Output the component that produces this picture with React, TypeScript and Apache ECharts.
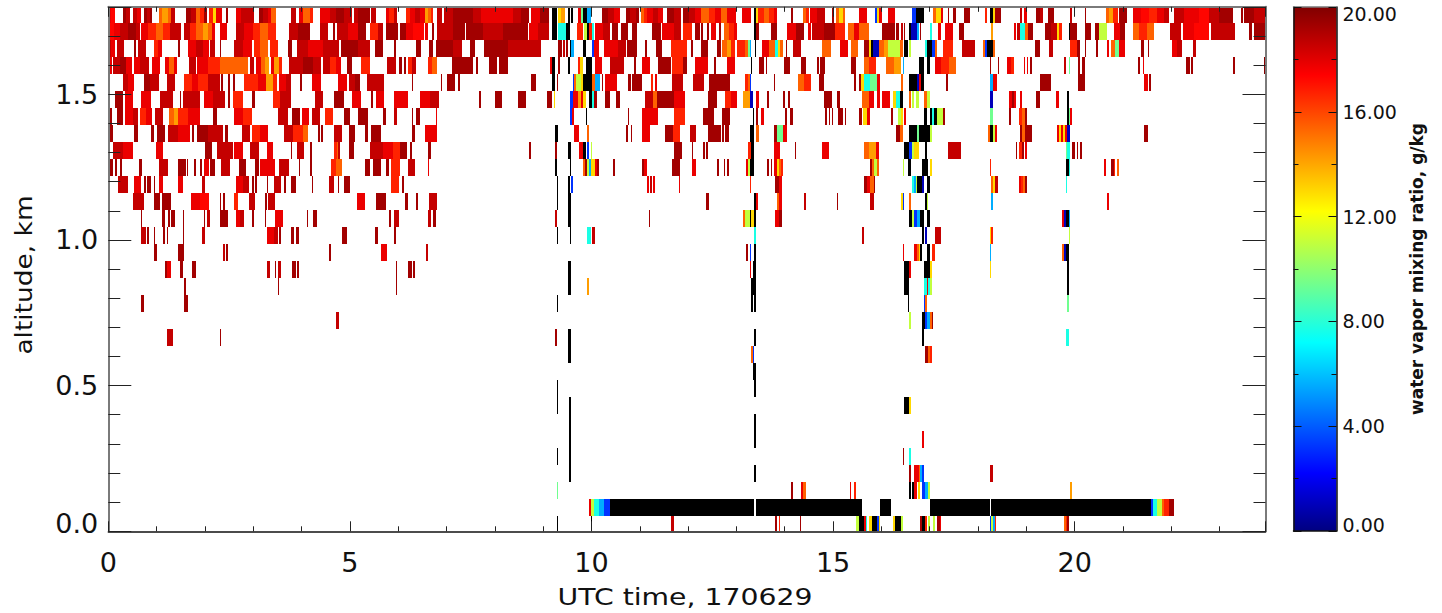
import React, { useEffect, useRef } from "react";
import * as echarts from "echarts";

// value classes (g/kg); X = black (below scale)
const D = 19.3, M = 18.6, R = 17.8, r = 17.3, O = 16.7, o = 15.4, A = 14.2, Y = 13, G = 11, S = 9.4, C = 7.7, K = 5.6, B = 3.2, N = 1, X = -1, V = 19.9;

const BIN_HOURS = 1 / 48.3; // time bin used for the run lists
const ROW_HEIGHT_KM = 0.05827;
const FIRST_ROW_TOP_KM = 0.054;

const xTicks = [0, 5, 10, 15, 20];
const yTicks = [0, 0.5, 1, 1.5];
const barLabels = [0, 4, 8, 12, 16, 20];
const xTitle = "UTC time, 170629";
const yTitle = "altitude, km";
const barTitle = "water vapor mixing ratio, g/kg";

// runs: start bin, end bin, value
const row30 = [1,3,R,3,7,r,15,18,D,18,22,M,25,29,M,29,33,R,36,39,D,39,42,M,42,44,D,51,54,o,54,60,A,60,63,o,63,67,M,78,83,D,83,88,M,88,92,o,92,96,O,96,99,D,101,105,O,105,108,Y,108,114,R,118,120,D,128,133,R,133,138,M,138,146,M,151,155,D,155,160,M,160,163,R,163,168,o,183,188,M,191,195,R,195,202,o,202,205,O,212,222,R,222,228,M,228,236,D,236,244,M,246,250,M,250,254,D,254,262,D,263,268,M,278,281,R,281,286,O,286,289,M,298,302,O,302,307,R,307,312,M,312,317,R,317,320,A,320,323,o,323,325,O,329,334,M,336,345,M,345,355,D,355,365,D,365,373,M,373,385,R,385,395,R,395,405,R,405,413,M,413,421,D,423,432,R,432,441,D,444,449,X,450,453,Y,453,457,A,460,462,X,463,465,X,470,473,R,473,475,S,475,479,X,479,483,K,494,500,D,500,506,M,506,512,R,518,522,D,522,528,M,528,531,D,533,536,o,536,539,O,539,545,R,545,550,M,550,555,R,558,565,D,565,572,M,574,580,D,580,586,M,586,592,R,592,600,o,600,606,O,606,612,R,612,618,o,618,627,R,633,642,R,645,647,X,647,649,Y,649,655,O,655,660,o,660,665,O,665,668,R,682,684,D,694,697,o,697,700,O,701,708,R,708,716,M,723,725,D,727,730,o,730,734,Y,734,736,o,750,758,R,766,768,B,768,770,Y,770,773,R,779,786,R,803,807,B,807,815,X,824,827,o,827,832,Y,832,834,R,839,840,D,844,847,D,855,861,D,876,878,O,881,884,X,884,886,Y,886,892,D,911,913,M,915,918,R,927,931,D,931,934,M,939,945,D,961,963,M,976,977,D,997,1000,o,1000,1004,A,1004,1009,O,1010,1018,D,1024,1032,R,1032,1040,r,1040,1048,O,1048,1055,R,1055,1060,M,1065,1075,M,1075,1090,R,1090,1100,r,1100,1110,M,1110,1124,D,1132,1134,D,1135,1145,D,1145,1157,M];
const row29 = [0,6,r,6,12,R,12,20,M,20,28,D,28,32,M,33,40,R,40,48,O,48,55,o,55,62,O,62,73,M,76,82,M,82,88,O,88,95,o,95,100,A,100,104,o,104,107,R,112,119,R,128,136,M,136,145,R,145,152,O,152,160,o,160,168,O,181,190,M,190,202,D,212,220,M,225,227,D,229,240,M,240,250,R,250,258,D,262,270,O,270,275,M,278,290,D,292,298,D,298,305,R,305,316,r,317,320,R,324,326,D,329,345,M,345,357,D,358,375,D,375,395,M,395,420,D,421,430,R,430,441,M,444,449,X,450,458,C,458,462,X,469,475,O,476,479,G,479,481,X,481,484,O,484,486,C,487,495,R,495,502,M,504,510,D,513,520,D,524,529,D,544,553,D,554,565,R,565,572,M,574,583,O,586,591,D,592,594,D,598,600,D,602,607,R,610,612,D,615,620,o,620,625,O,625,628,R,645,647,X,647,650,D,662,668,D,678,687,R,687,695,D,699,702,R,703,715,M,715,726,D,726,736,O,739,745,o,745,750,R,750,760,o,773,786,D,787,790,D,792,794,M,795,796,D,800,802,X,802,808,N,808,810,K,811,812,D,821,823,C,829,832,R,836,844,R,850,855,D,882,884,A,905,907,R,908,911,M,911,916,C,916,919,o,919,924,D,936,942,D,942,948,M,948,950,Y,950,953,O,960,961,X,961,968,D,976,982,D,986,990,D,990,998,G,1005,1011,R,1011,1016,D,1024,1030,o,1030,1038,O,1038,1045,o,1061,1072,M,1074,1085,R,1085,1100,r,1102,1126,M,1140,1143,D,1145,1157,D];
const row28 = [0,3,M,3,7,R,9,16,M,26,28,D,30,38,M,46,50,O,50,54,R,70,72,D,80,88,R,88,95,M,95,101,R,102,107,M,112,113,D,126,135,M,135,144,R,146,152,O,152,160,o,162,170,O,180,184,D,189,200,M,200,215,R,215,231,M,233,250,D,250,262,M,267,275,D,286,288,D,308,313,D,321,325,D,328,345,D,345,354,M,362,367,D,376,400,D,400,433,M,450,454,D,455,457,M,458,460,D,462,463,X,463,466,K,475,478,X,484,486,B,486,491,R,496,510,R,510,518,M,519,529,D,537,539,D,548,554,D,562,578,O,582,584,D,592,599,D,608,612,D,613,618,o,618,622,A,622,626,O,628,636,O,636,639,o,639,641,S,641,642,K,646,647,X,653,660,R,660,666,o,666,669,C,669,671,Y,671,674,o,677,678,D,684,692,M,713,722,o,731,739,R,742,749,o,755,760,D,760,762,Y,762,764,X,764,770,N,770,775,o,775,779,A,779,791,G,791,794,o,795,799,X,800,802,G,816,818,C,818,823,X,823,826,B,826,828,o,834,844,O,853,866,M,874,876,o,876,878,B,878,884,X,884,886,o,926,931,D,940,944,M,961,968,O,968,971,D,976,977,D,987,989,D,998,1000,R,1002,1006,o,1006,1010,S,1010,1016,R,1032,1035,D,1039,1040,D,1063,1068,R,1068,1073,M,1084,1087,M];
const row27 = [0,4,R,5,12,M,12,18,D,18,24,R,26,32,R,32,41,M,44,52,R,57,61,R,61,66,o,66,69,R,81,88,M,89,100,R,100,112,O,112,125,o,125,140,o,142,146,M,148,153,R,153,157,o,157,161,A,163,166,R,166,171,A,171,174,O,181,195,M,195,205,D,205,213,M,215,222,M,222,228,O,228,233,R,239,244,D,253,262,O,279,288,M,291,292,D,292,294,D,296,298,D,300,304,O,304,308,M,320,324,O,324,329,o,344,365,D,368,370,D,381,389,D,391,400,D,442,444,R,444,447,X,450,452,D,460,462,X,470,472,O,472,475,Y,478,484,X,487,494,R,502,516,M,526,528,D,534,542,R,550,562,D,563,574,O,574,578,D,586,599,R,605,607,D,618,626,R,642,643,X,650,655,D,657,658,D,675,681,D,692,697,D,708,710,D,711,716,D,742,747,D,755,760,o,760,767,O,777,785,o,785,792,A,794,795,K,810,815,X,818,821,X,826,832,R,832,840,O,840,847,o,881,882,D,889,890,D,898,902,R,902,905,O,915,916,R,918,919,R,921,923,D,955,957,M,960,961,S,969,971,D,973,976,D,1029,1031,D,1034,1035,R,1077,1081,D,1082,1084,D,1124,1126,D,1155,1157,V];
const row26 = [15,20,M,20,26,R,36,42,D,42,51,M,59,67,M,76,84,O,84,90,R,90,100,O,100,112,M,113,115,D,120,122,D,125,127,D,136,150,O,150,158,R,158,165,A,165,169,O,171,178,R,178,183,M,192,194,D,204,213,R,230,239,R,241,247,M,247,252,D,259,276,M,304,305,D,333,334,D,339,347,D,350,352,D,423,428,D,444,447,X,449,450,D,465,466,B,466,468,o,468,473,G,473,475,Y,475,484,X,484,487,o,487,492,K,494,495,D,497,509,R,520,523,D,524,534,D,543,545,O,547,549,R,563,574,M,584,595,M,600,621,D,636,639,O,639,641,o,641,642,B,665,666,D,689,695,o,695,702,O,710,715,D,745,747,D,750,752,D,752,755,Y,755,761,C,761,768,S,768,771,R,792,794,o,800,808,X,808,810,N,810,812,R,812,815,X,837,839,D,881,884,K,884,888,R,931,942,D,969,976,D,1035,1039,R,1040,1042,D,1156,1157,V];
const row25 = [7,15,D,17,25,R,33,43,R,52,65,M,72,73,D,75,92,M,96,105,R,105,117,M,120,122,D,125,135,O,144,147,D,165,172,O,172,183,M,207,215,M,226,236,D,244,253,R,263,265,D,268,276,R,286,292,R,292,300,R,312,322,R,322,331,M,371,373,D,387,394,D,410,418,D,439,444,D,446,447,Y,462,465,B,465,470,R,470,473,A,473,475,R,475,478,Y,481,484,X,484,486,C,486,489,D,497,502,D,508,512,D,537,545,M,545,549,o,549,565,D,565,576,R,599,608,D,616,622,O,622,628,R,634,641,A,641,644,N,647,650,R,658,660,D,674,676,D,679,681,D,715,723,D,728,731,D,753,760,o,760,765,R,768,771,R,773,781,R,784,787,Y,787,791,C,791,794,X,800,802,o,803,805,G,807,810,G,815,818,o,818,821,G,881,884,N,900,903,R,903,905,D,905,907,R,911,913,R,927,931,D,947,950,R,958,960,X];
const row24 = [0,4,D,9,15,D,17,25,R,25,30,M,32,38,O,38,44,R,47,55,M,61,66,o,66,70,A,70,80,O,80,92,R,105,109,D,126,135,R,135,144,O,170,180,M,184,192,D,194,201,R,204,212,M,217,225,O,236,242,D,250,260,D,275,278,D,286,289,M,304,305,D,308,312,D,328,329,R,462,464,B,464,466,R,478,479,X,520,521,D,534,550,R,565,576,O,594,605,D,613,621,D,644,645,X,647,649,D,652,655,R,676,678,D,681,684,D,716,718,D,720,721,D,723,724,D,729,734,D,736,737,D,750,753,D,754,758,Y,758,761,R,782,784,D,789,792,G,792,794,Y,795,797,R,815,818,X,821,823,X,823,825,C,825,828,X,828,834,G,834,836,D,881,884,S,900,902,D,910,913,O,913,916,o,916,918,D,958,960,X,960,961,S,961,963,R];
const row23 = [2,5,D,26,30,D,43,46,D,49,57,D,60,70,M,70,82,R,84,86,D,89,100,D,100,115,M,117,120,D,134,142,M,144,152,O,152,160,R,176,185,M,185,195,O,195,200,o,210,212,D,213,215,D,226,234,M,241,247,D,257,260,D,263,273,D,304,307,D,317,329,R,447,450,X,466,471,R,479,481,o,518,520,D,523,524,D,534,542,R,557,564,D,564,571,O,581,587,M,599,612,D,613,615,D,616,620,D,641,645,X,647,650,o,665,668,D,668,674,S,674,678,R,787,791,D,791,794,o,800,808,X,808,810,S,810,821,X,821,823,G,879,881,o,881,884,X,884,886,G,886,888,R,911,913,D,913,916,o,916,923,D,948,950,R,950,952,Y,952,954,R,954,956,Y,956,958,R,958,961,N,1035,1039,D];
const row22 = [5,15,M,15,25,R,48,55,R,97,104,D,109,125,M,126,135,R,142,151,M,159,165,R,183,184,D,189,196,M,202,204,D,226,229,O,229,230,o,230,232,M,241,246,D,262,275,M,275,285,R,285,292,O,292,299,D,302,304,D,320,323,D,421,423,D,447,449,D,460,463,X,471,475,R,475,478,X,479,481,B,483,484,G,565,573,D,583,584,D,594,596,D,597,599,D,639,642,O,642,645,X,665,671,R,686,687,D,713,720,R,755,760,o,760,767,A,767,770,R,795,800,X,800,803,B,803,805,G,805,810,Y,816,818,X,839,852,M,907,908,D,910,913,O,913,915,D,916,918,R,957,958,S,958,961,C,963,966,D,968,969,D,971,973,D];
const row21 = [2,5,D,7,9,D,12,14,D,31,34,D,51,60,M,70,78,D,79,80,D,86,88,D,92,94,D,96,101,R,102,107,D,113,122,M,131,138,D,147,151,D,152,167,R,171,181,M,191,192,D,202,204,D,223,228,O,228,234,o,257,262,D,265,273,D,278,281,D,283,292,O,300,307,M,320,321,R,447,449,X,462,463,X,475,477,o,477,479,D,479,481,G,481,483,K,483,487,Y,487,489,R,489,491,D,505,507,D,534,536,D,536,539,R,563,571,D,583,587,R,608,610,D,615,616,D,618,620,D,637,639,R,639,641,G,641,645,X,658,660,D,662,663,D,665,668,R,668,670,Y,670,672,o,672,674,O,761,763,D,763,765,o,765,768,G,768,770,o,794,795,G,799,802,X,813,819,X,821,823,Y,881,882,O,957,960,X,960,961,C,995,997,R,1002,1005,D,1005,1006,O,1008,1010,o];
const row20 = [10,20,M,26,33,R,36,38,D,39,43,D,46,47,D,51,55,R,70,75,R,94,97,M,128,135,R,135,141,M,144,146,D,147,149,D,159,160,D,166,173,M,176,178,D,183,188,D,204,205,D,221,226,M,230,231,D,236,242,D,283,291,O,294,296,D,449,450,X,460,462,X,463,465,B,539,541,R,542,544,M,545,547,R,570,571,R,641,642,O,666,670,D,670,673,R,755,758,D,758,761,R,761,765,o,765,766,D,803,805,C,805,807,K,807,808,G,808,813,X,813,815,N,818,821,X,882,884,o,884,886,Y,886,889,M,910,912,R,912,914,O,914,916,o,916,918,D,957,958,C];
const row19 = [25,36,M,46,52,D,54,63,D,83,92,R,92,101,r,112,113,D,115,117,D,126,130,O,141,147,M,157,159,D,160,167,M,249,257,R,268,278,D,297,300,D,308,310,D,321,329,M,449,450,X,460,463,X,597,600,D,645,647,X,647,649,R,668,670,o,670,673,R,695,697,M,728,729,D,761,765,M,792,794,Y,794,795,B,800,802,o,816,818,X,818,819,G,882,884,K,998,1000,R];
const row18 = [0,2,V,33,34,D,54,57,D,60,62,D,63,67,D,75,76,D,96,97,D,99,102,M,112,120,D,128,132,R,132,136,M,144,146,D,157,158,D,167,175,R,199,200,D,205,209,D,281,283,D,286,291,M,320,323,M,325,328,D,447,449,M,460,463,X,541,542,D,634,636,o,636,641,G,641,642,X,642,645,Y,645,647,X,666,670,R,670,673,D,800,803,X,803,805,G,805,808,B,808,811,K,811,815,X,818,821,X,953,955,R,955,957,N,957,960,X,960,961,K];
const row17 = [33,38,M,39,41,D,46,47,D,55,57,D,59,60,D,75,76,D,94,97,M,159,166,R,166,170,M,171,173,D,183,186,D,188,191,D,234,239,D,267,270,D,286,288,D,449,450,X,462,463,X,479,483,C,484,487,M,645,647,C,753,755,M,813,815,X,816,818,N,826,832,M,881,882,Y,882,884,O,960,961,G];
const row16 = [46,49,D,70,76,D,115,117,M,118,120,D,221,223,D,273,279,R,318,320,M,637,639,D,641,642,B,645,647,X,794,795,R,805,808,R,808,810,o,810,811,Y,811,813,X,818,821,X,823,826,O,881,882,K,953,955,o,955,957,N,957,960,X];
const row15 = [57,59,D,59,63,R,72,75,D,84,88,D,159,162,M,167,168,D,170,173,M,184,188,D,189,191,D,288,289,D,300,304,D,305,307,D,460,463,X,641,642,R,644,647,X,795,800,X,800,802,R,815,821,X,821,823,Y,881,882,Y,958,960,X];
const row14 = [76,78,D,170,171,D,288,289,D,460,463,X,479,481,A,642,647,X,795,800,X,815,818,C,818,819,R,819,821,C,821,823,G,958,960,X];
const row13 = [33,36,D,76,80,D,449,450,X,642,644,X,645,647,X,799,800,X,815,816,B,816,818,o,958,960,S];
const row12 = [228,231,M,800,802,G,813,816,X,816,818,B,818,821,K,821,823,o,823,824,D];
const row11 = [59,65,M,112,113,D,447,449,D,460,463,X,645,647,X,813,815,X,957,960,C];
const row10 = [460,463,X,642,644,o,644,645,B,816,819,D,819,821,o,821,823,O];
const row9 = [644,647,X];
const row8 = [449,450,X,645,647,X];
const row7 = [449,450,X,461,463,X,795,800,X,800,802,Y];
const row6 = [461,463,X,645,647,X];
const row5 = [461,463,X,645,647,X,813,815,R];
const row4 = [449,450,X,461,463,X,794,795,D,800,802,C];
const row3 = [461,463,X,645,647,X,800,802,D,805,810,R,810,811,o,811,813,K,813,815,B,881,884,M];
const row2 = [449,450,S,682,684,D,692,694,R,694,697,o,741,742,R,745,747,O,800,802,X,803,805,X,805,808,R,809,811,Y,813,816,B,816,819,K,819,821,G,961,963,A];
const row1 = [481,483,R,483,486,G,486,491,C,491,496,K,496,502,B,502,645,X,647,753,X,771,782,X,821,881,X,882,1042,X,1042,1044,B,1044,1048,C,1048,1053,G,1053,1055,o,1055,1060,O,1060,1065,D];
const row0 = [449,450,X,483,484,X,562,565,M,666,668,D,670,671,O,691,692,D,747,750,G,750,755,X,755,757,R,757,758,C,760,763,Y,763,768,X,768,770,B,770,771,Y,784,786,Y,786,792,X,792,794,G,811,813,D,813,816,X,816,818,O,819,821,G,824,826,G,828,831,D,831,832,R,881,882,B,882,884,G,884,886,K,886,887,O,955,957,o,957,958,O,958,960,D];

const rows = [row0,row1,row2,row3,row4,row5,row6,row7,row8,row9,row10,row11,row12,row13,row14,row15,row16,row17,row18,row19,row20,row21,row22,row23,row24,row25,row26,row27,row28,row29,row30];

// colour scale positions (0..1 of 0–20 g/kg) and colours
const scaleStops = [0, 0.11, 0.36, 0.61, 0.87, 1];
const scaleColors = [[0,0,128],[0,0,255],[0,255,255],[255,255,0],[255,0,0],[128,0,0]];

function jet(v: number): string {
  if (v < 0) return "#000000";
  const t = Math.min(1, v / 20);
  for (let i = 1; i < scaleStops.length; i++) {
    if (t <= scaleStops[i]) {
      const f = (t - scaleStops[i - 1]) / (scaleStops[i] - scaleStops[i - 1]);
      const a = scaleColors[i - 1], b = scaleColors[i];
      return `rgb(${Math.round(a[0] + (b[0] - a[0]) * f)},${Math.round(a[1] + (b[1] - a[1]) * f)},${Math.round(a[2] + (b[2] - a[2]) * f)})`;
    }
  }
  return "#800000";
}

function cells() {
  const out: number[][] = [];
  rows.forEach((row, k) => {
    const lo = k === 0 ? 0 : FIRST_ROW_TOP_KM + (k - 1) * ROW_HEIGHT_KM;
    const hi = FIRST_ROW_TOP_KM + k * ROW_HEIGHT_KM;
    for (let i = 0; i < row.length; i += 3) {
      out.push([row[i] * BIN_HOURS, row[i + 1] * BIN_HOURS, lo, hi, row[i + 2]]);
    }
  });
  return out;
}

const FONT = "DejaVu Sans";
const GRAY = "#7a7a7a";
const INK = "#222222";

export default function App() {
  const ref = useRef<HTMLDivElement>(null);
  useEffect(() => {
    if (!ref.current) return;
    const chart = echarts.init(ref.current, null, { renderer: "svg" });
    const xBase: any = {
      type: "value", min: 0, max: 23.95, interval: 5, gridIndex: 0, z: 10,
      splitLine: { show: false },
      axisTick: { show: true, inside: true, length: 10, lineStyle: { color: INK, width: 1 } },
      minorTick: { show: true, splitNumber: 5, length: 5, lineStyle: { color: INK, width: 1 } },
    };
    const yBase: any = {
      type: "value", min: 0, max: 1.8, interval: 0.5, gridIndex: 0, z: 10,
      splitLine: { show: false },
      axisTick: { show: true, inside: true, length: 23, lineStyle: { color: INK, width: 1 } },
      minorTick: { show: true, splitNumber: 5, length: 12, lineStyle: { color: INK, width: 1 } },
    };
    chart.setOption({
      animation: false,
      backgroundColor: "#ffffff",
      textStyle: { fontFamily: FONT },
      grid: [
        { left: 108.3, top: 6.8, width: 1157.2, height: 524.5, containLabel: false },
        { left: 1293.5, top: 7, width: 43, height: 524, containLabel: false },
      ],
      graphic: [
        {
          type: "text", x: 685, y: 597, scaleX: 1.23,
          style: { text: xTitle, fontSize: 23, fontFamily: FONT, fill: "#111", textAlign: "center", textVerticalAlign: "middle" },
        },
        {
          type: "text", x: 24, y: 275, scaleX: 1.15, rotation: Math.PI / 2,
          style: { text: yTitle, fontSize: 23, fontFamily: FONT, fill: "#111", textAlign: "center", textVerticalAlign: "middle" },
        },
      ],
      xAxis: [
        {
          ...xBase, position: "bottom",
          axisLine: { show: true, onZero: false, lineStyle: { color: "#111111", width: 1.5 } },
          axisLabel: {
            show: true, fontSize: 27, color: "#111", margin: 18, fontFamily: FONT,
            customValues: xTicks,
          },
        },
        {
          ...xBase, position: "top",
          axisLine: { show: true, onZero: false, lineStyle: { color: GRAY, width: 2 } },
          axisLabel: { show: false },
        },
        {
          type: "value", gridIndex: 1, min: 0, max: 1, position: "bottom", show: true,
          axisLine: { show: true, onZero: false, lineStyle: { color: "#111", width: 1.5 } },
          axisTick: { show: false }, axisLabel: { show: false }, splitLine: { show: false }, z: 10,
        },
        {
          type: "value", gridIndex: 1, min: 0, max: 1, position: "top", show: true,
          axisLine: { show: true, onZero: false, lineStyle: { color: GRAY, width: 1.5 } },
          axisTick: { show: false }, axisLabel: { show: false }, splitLine: { show: false }, z: 10,
        },
      ],
      yAxis: [
        {
          ...yBase, position: "left",
          axisLine: { show: true, onZero: false, lineStyle: { color: GRAY, width: 2 } },
          axisLabel: {
            show: true, fontSize: 27, color: "#111", margin: 10, fontFamily: FONT,
            customValues: yTicks,
            formatter: (v: number) => (v === 0 ? "{z|0.0}" : v.toFixed(1)),
            rich: { z: { fontSize: 27, color: "#111", fontFamily: FONT, padding: [0, 0, 16, 0] } },
          },
        },
        {
          ...yBase, position: "right",
          axisLine: { show: true, onZero: false, lineStyle: { color: GRAY, width: 2 } },
          axisLabel: { show: false },
        },
        {
          type: "value", gridIndex: 1, min: 0, max: 20, interval: 4, position: "right", z: 10,
          splitLine: { show: false },
          axisLine: { show: true, onZero: false, lineStyle: { color: "#111", width: 1.5 } },
          axisTick: { show: true, inside: true, length: 8, lineStyle: { color: "#111", width: 1 } },
          minorTick: { show: true, splitNumber: 2, length: 5, lineStyle: { color: "#111", width: 1 } },
          axisLabel: {
            show: true, fontSize: 19, color: "#111", margin: 6, fontFamily: FONT,
            customValues: barLabels,
            formatter: (v: number) => (v === 20 ? "{t|20.00}" : v === 0 ? "{b|0.00}" : v.toFixed(2)),
            rich: {
              t: { fontSize: 19, color: "#111", fontFamily: FONT, padding: [14, 0, 0, 0] },
              b: { fontSize: 19, color: "#111", fontFamily: FONT, padding: [0, 0, 12, 0] },
            },
          },
          name: barTitle, nameLocation: "middle", nameGap: 72, nameRotate: 90,
          nameTextStyle: { fontSize: 17, color: "#111", fontFamily: FONT, fontWeight: "bold" },
        },
        {
          type: "value", gridIndex: 1, min: 0, max: 20, interval: 4, position: "left", z: 10,
          splitLine: { show: false },
          axisLine: { show: true, onZero: false, lineStyle: { color: "#111", width: 1.5 } },
          axisTick: { show: true, inside: true, length: 8, lineStyle: { color: "#111", width: 1 } },
          minorTick: { show: true, splitNumber: 2, length: 5, lineStyle: { color: "#111", width: 1 } },
          axisLabel: { show: false },
        },
      ],
      series: [
        {
          type: "custom",
          xAxisIndex: 0, yAxisIndex: 0,
          clip: true, silent: true, z: 2,
          encode: { x: [0, 1], y: [2, 3] },
          data: cells(),
          renderItem: (_p: any, api: any) => {
            const a = api.coord([api.value(0), api.value(2)]);
            const b = api.coord([api.value(1), api.value(3)]);
            const x0 = Math.round(a[0]), x1 = Math.max(x0 + 1, Math.round(b[0]));
            const y1 = Math.round(a[1]), y0 = Math.round(b[1]);
            return {
              type: "rect",
              shape: { x: x0, y: y0, width: x1 - x0, height: y1 - y0 },
              style: { fill: jet(api.value(4)), stroke: null },
            };
          },
        },
        {
          type: "custom",
          xAxisIndex: 2, yAxisIndex: 2,
          silent: true, z: 2,
          encode: { x: 0, y: [1, 2] },
          data: [[0, 0, 20]],
          renderItem: (_p: any, api: any) => {
            const a = api.coord([0, api.value(1)]);
            const b = api.coord([1, api.value(2)]);
            return {
              type: "rect",
              shape: { x: a[0], y: b[1], width: b[0] - a[0], height: a[1] - b[1] },
              style: {
                fill: new echarts.graphic.LinearGradient(0, 1, 0, 0,
                  scaleStops.map((s, i) => ({ offset: s, color: `rgb(${scaleColors[i].join(",")})` }))),
              },
            };
          },
        },
      ],
    } as any);
    return () => chart.dispose();
  }, []);
  return <div ref={ref} style={{ position: "absolute", left: 0, top: 0, width: 1442, height: 613 }} />;
}
